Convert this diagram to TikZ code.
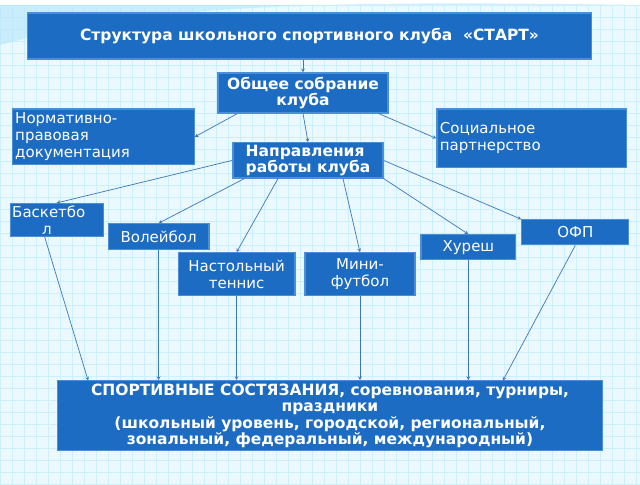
\documentclass[tikz,border=0pt]{standalone}
\usepackage{fontspec}
\setmainfont{DejaVu Sans}
\definecolor{bx}{HTML}{1D6CC4}
\definecolor{bd}{HTML}{4A8FD8}
\definecolor{ln}{HTML}{3A78B8}
\begin{document}
\begin{tikzpicture}[x=1pt,y=-1pt,
 box/.style={draw=bd,line width=1.2pt,fill=bx,text=white,inner sep=2pt,font=\fontsize{15}{17}\selectfont,align=center},
 bb/.style={font=\bfseries\fontsize{15.5}{16.5}\selectfont},
 arr/.style={draw=ln,line width=0.7pt,->,>=stealth}]
\fill[cyan!8] (0,0) rectangle (640,480);
\foreach \i in {0,12,...,640} \draw[cyan!20,line width=0.5pt] (\i,0)--(\i,480);
\foreach \i in {0,12,...,480} \draw[cyan!20,line width=0.5pt] (0,\i)--(640,\i);
\fill[cyan!30,opacity=0.6] (0,40) .. controls (150,0) and (300,-5) .. (640,0) -- (0,0) -- cycle;
\node[box,bb,minimum width=565,minimum height=46] (t) at (309.5,31) {Структура школьного спортивного клуба \ «СТАРТ»};
\node[box,bb,minimum width=170,minimum height=40] (o) at (303,88) {Общее собрание\\клуба};
\node[box,minimum width=182,minimum height=56,text width=176,align=left] (n) at (103,132) {Нормативно-\\правовая\\документация};
\node[box,minimum width=190,minimum height=59,text width=184,align=left] (s) at (532,133.5) {Социальное\\партнерство};
\node[box,bb,minimum width=150,minimum height=35,align=left] (d) at (308,155.5) {Направления\\работы клуба};
\node[box,minimum width=93,minimum height=30,text width=89,align=left] (b) at (56.5,215) {Баскетбо\\\hspace*{30pt}л};
\node[box,minimum width=101,minimum height=26] (v) at (158.5,232) {Волейбол};
\node[box,minimum width=107,minimum height=25] (f) at (575.5,227.5) {ОФП};
\node[box,minimum width=95,minimum height=25] (h) at (468.5,242.5) {Хуреш};
\node[box,minimum width=117,minimum height=43] (nt) at (236.5,269.5) {Настольный\\теннис};
\node[box,minimum width=110,minimum height=43] (m) at (360,269.5) {Мини-\\футбол};
\node[box,bb,minimum width=546,minimum height=70] (z) at (330,411) {СПОРТИВНЫЕ СОСТЯЗАНИЯ, соревнования, турниры,\\праздники\\(школьный уровень, городской, региональный,\\зональный, федеральный, международный)};
\path (o.south west) ++(20,0) coordinate (o1);
\path (o.south east) ++(-10,0) coordinate (o2);
\path (d.south west) ++(12,0) coordinate (d1);
\path (d.south) ++(-30,0) coordinate (d2);
\path (d.south) ++(35,0) coordinate (d3);
\path (b.south west) ++(35,0) coordinate (b1);
\coordinate (z1) at (88,376);
\coordinate (z2) at (503,376);
\draw[arr] (t.south -| o) -- (o.north);
\draw[arr] (o.south) -- (d.north);
\draw[arr] (o1) -- (n.east);
\draw[arr] (o2) -- (s.west);
\draw[arr] (d.west) -- (b.north);
\draw[arr] (d1) -- (v.north);
\draw[arr] (d2) -- (nt.north);
\draw[arr] (d3) -- (m.north);
\draw[arr] (d.south east) -- (h.north);
\draw[arr] (d.east) -- (f.north west);
\draw[arr] (b1) -- (z1);
\draw[arr] (v.south) -- (v.south |- z.north);
\draw[arr] (nt.south) -- (nt.south |- z.north);
\draw[arr] (m.south) -- (m.south |- z.north);
\draw[arr] (h.south) -- (h.south |- z.north);
\draw[arr] (f.south) -- (z2);
\end{tikzpicture}
\end{document}
